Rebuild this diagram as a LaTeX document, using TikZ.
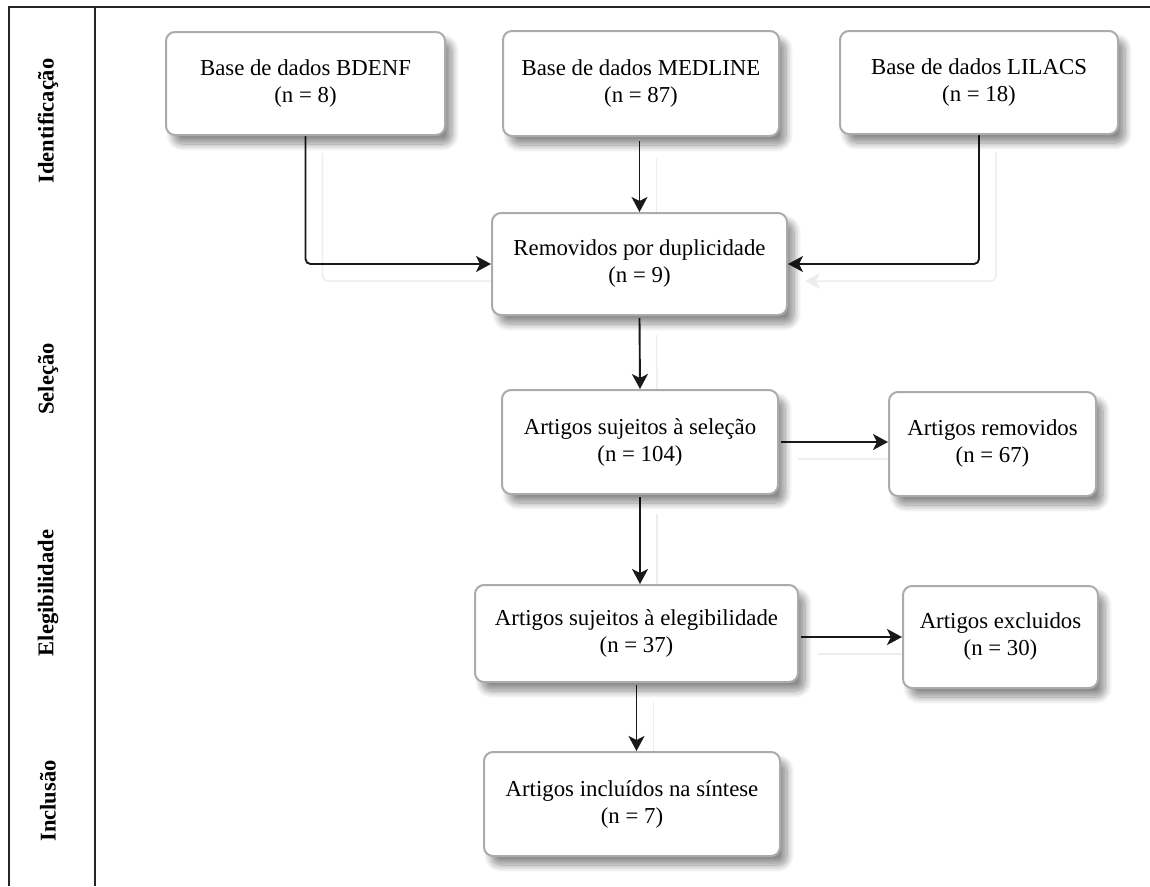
\documentclass[tikz,border=0pt]{standalone}
\usepackage{fontspec}
\setmainfont{Liberation Serif}
\usetikzlibrary{arrows.meta,shadows.blur,backgrounds,calc}
\begin{document}
\begin{tikzpicture}[x=1pt,y=-1pt,
  box/.style={draw=black!33, line width=2pt, rounded corners=9pt, fill=white,
    align=center, font=\fontsize{22.8}{27}\selectfont, inner sep=0pt,
    blur shadow={shadow xshift=7pt, shadow yshift=-9pt, shadow blur radius=7pt, shadow blur steps=10, shadow opacity=45}},
  conn/.style={draw=black!90, line width=1.9pt, rounded corners=5pt,
    -{Stealth[length=15pt,width=16pt,inset=4pt]},
    preaction={draw=black!7, line width=1.5pt, transform canvas={shift={(17pt,-17pt)}}}},
  phase/.style={rotate=90, font=\fontsize{22.5}{26}\selectfont\bfseries},
  frame/.style={draw=black!85, line width=1.7pt}]
\useasboundingbox (0,0) rectangle (1150,886);
% frame
\coordinate (tl) at (9,7);
\coordinate (tr) at (1150,7);
\coordinate (bl) at (9,886);
\coordinate (il) at (95,7);
\coordinate (ib) at (95,886);
\draw[frame] (tr) -- (tl) -- (bl);
\draw[frame] (il) -- (ib);
% phase labels
\node[phase] (p1) at (48,121) {Identificação};
\node[phase] (p2) at (48,379) {Seleção};
\node[phase] (p3) at (48,593) {Elegibilidade};
\node[phase] (p4) at (48,801) {Inclusão};
% boxes
\node[box, minimum width=279pt, minimum height=103pt] (bdenf) at (305.5,83.5) {Base de dados BDENF\\(n = 8)};
\node[box, minimum width=276pt, minimum height=105pt] (medline) at (641,83.5) {Base de dados MEDLINE\\(n = 87)};
\node[box, minimum width=278pt, minimum height=103pt] (lilacs) at (979,82.5) {Base de dados LILACS\\(n = 18)};
\node[box, minimum width=295pt, minimum height=102pt] (dup) at (639.5,264) {Removidos por duplicidade\\(n = 9)};
\node[box, minimum width=276pt, minimum height=104pt] (sel) at (640,442) {Artigos sujeitos à seleção\\(n = 104)};
\node[box, minimum width=207pt, minimum height=104pt] (remv) at (992.5,444) {Artigos removidos\\(n = 67)};
\node[box, minimum width=323pt, minimum height=97pt] (eleg) at (636.5,633.5) {Artigos sujeitos à elegibilidade\\(n = 37)};
\node[box, minimum width=195pt, minimum height=102pt] (excl) at (1000.5,637) {Artigos excluidos\\(n = 30)};
\node[box, minimum width=296pt, minimum height=104pt] (incl) at (632,804) {Artigos incluídos na síntese\\(n = 7)};
% connectors
\begin{scope}[on background layer]
\draw[conn] (bdenf.south) |- (dup.west);
\draw[conn] (lilacs.south) |- (dup.east);
\draw[conn] ($(medline.south -| dup.north)+(0,4)$) -- (dup.north);
\draw[conn] ($(dup.south)+(0,2)$) -- (sel.north);
\draw[conn] ($(sel.south)+(0,2)$) -- (sel.south |- eleg.north);
\draw[conn] ($(eleg.south)+(0,2)$) -- (eleg.south |- incl.north);
\draw[conn] ($(sel.east)+(2,0)$) -- (sel.east -| remv.west);
\draw[conn] ($(eleg.east |- excl.west)+(2,0)$) -- (excl.west);
\end{scope}
\end{tikzpicture}
\end{document}
